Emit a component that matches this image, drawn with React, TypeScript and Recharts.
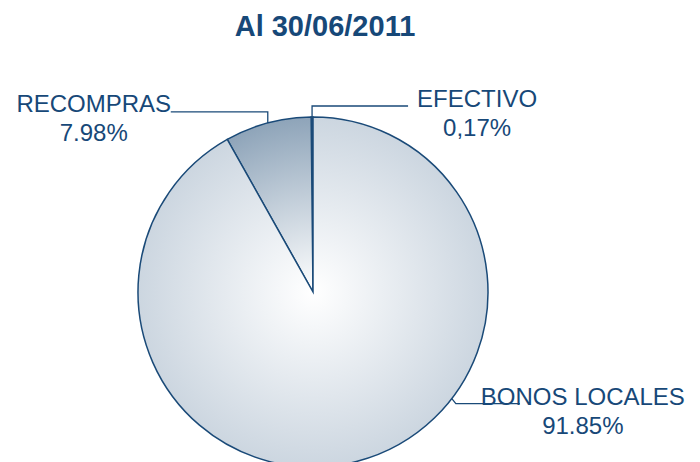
import { PieChart, Pie, Cell } from 'recharts';

// Portfolio breakdown, counter-clockwise from 12 o'clock
const categories = ['EFECTIVO', 'RECOMPRAS', 'BONOS LOCALES'];
const shares = [0.17, 7.98, 91.85];
const shareLabels = ['0,17%', '7.98%', '91.85%'];

const TEXT = '#174878';
const STROKE = '#1a4a78';
const FONT = '"Liberation Sans", Arial, sans-serif';

const CX = 313;
const CY = 292;
const R = 175;

// leader-line and text placement per slice, relative to the slice anchor
const LABEL_LAYOUT = [
  { angle: null as number | null, path: [[0, -11], [96, -11]], text: [165, -10] },
  { angle: null as number | null, path: [[0, -11], [-97, -11]], text: [-174, -11] },
  { angle: -37.5, path: [[4, 5], [68, 5]], text: [131, 6] },
];

const data = categories.map((name, i) => ({ name, value: shares[i], label: shareLabels[i] }));

const RAD = Math.PI / 180;

function renderLabel(props: any) {
  const { cx, cy, outerRadius, midAngle, index } = props;
  const layout = LABEL_LAYOUT[index];
  const a = layout.angle ?? midAngle;
  const ax = cx + outerRadius * Math.cos(a * RAD);
  const ay = cy - outerRadius * Math.sin(a * RAD);
  const pts = [[ax, ay], ...layout.path.map(([dx, dy]) => [ax + dx, ay + dy])];
  const tx = ax + layout.text[0];
  const ty = ay + layout.text[1];
  return (
    <g key={`label-${index}`}>
      <polyline
        points={pts.map((p) => p.join(',')).join(' ')}
        fill="none"
        stroke={STROKE}
        strokeWidth={1.3}
      />
      <text x={tx} y={ty} textAnchor="middle" fill={TEXT} fontFamily={FONT} fontSize={24}>
        <tspan x={tx} dy={0}>{data[index].name}</tspan>
        <tspan x={tx} dy={29}>{data[index].label}</tspan>
      </text>
    </g>
  );
}

export default function App() {
  return (
    <div style={{ position: 'absolute', left: 0, top: 0, width: 700, height: 462, overflow: 'hidden', background: '#fff' }}>
      <div
        style={{
          position: 'absolute',
          left: 0,
          top: 10,
          width: 650,
          textAlign: 'center',
          fontFamily: FONT,
          fontWeight: 'bold',
          fontSize: 29,
          color: TEXT,
          lineHeight: '32px',
        }}
      >
        Al 30/06/2011
      </div>
      <PieChart
        width={700}
        height={462}
        margin={{ top: 0, right: 0, bottom: 0, left: 0 }}
        style={{ position: 'absolute', left: 0, top: 0 }}
      >
        <defs>
          <radialGradient id="gBonos" gradientUnits="userSpaceOnUse" cx={CX} cy={CY} r={R}>
            <stop offset="0%" stopColor="#ffffff" />
            <stop offset="100%" stopColor="#ccd6e0" />
          </radialGradient>
          <radialGradient id="gRecompras" gradientUnits="userSpaceOnUse" cx={CX} cy={CY} r={R}>
            <stop offset="0%" stopColor="#ffffff" />
            <stop offset="100%" stopColor="#8ea4b9" />
          </radialGradient>
        </defs>
        <Pie
          data={data}
          dataKey="value"
          nameKey="name"
          cx={CX}
          cy={CY}
          outerRadius={R}
          startAngle={90}
          endAngle={450}
          stroke={STROKE}
          strokeWidth={1.5}
          label={renderLabel}
          labelLine={false}
          isAnimationActive={false}
        >
          <Cell fill="#4d7399" />
          <Cell fill="url(#gRecompras)" />
          <Cell fill="url(#gBonos)" />
        </Pie>
      </PieChart>
    </div>
  );
}
